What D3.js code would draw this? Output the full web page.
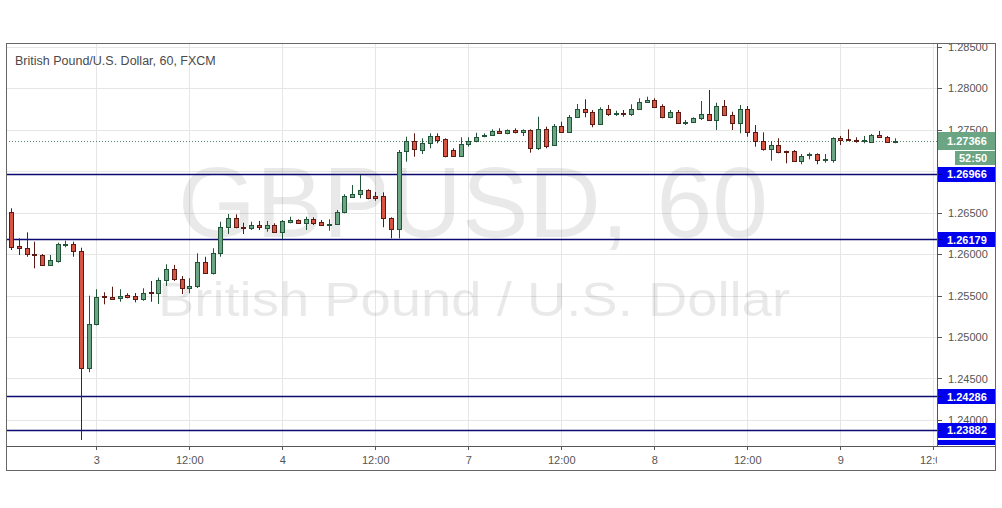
<!DOCTYPE html>
<html><head><meta charset="utf-8">
<script src="https://cdn.jsdelivr.net/npm/d3@7"></script>
<style>html,body{margin:0;padding:0;background:#fff;} svg{display:block;font-family:"Liberation Sans",Arial,sans-serif;}</style>
</head><body><svg id="c" width="1002" height="508"></svg>
<script>
// ---------- DATA ----------
const title = "British Pound/U.S. Dollar, 60, FXCM";
const watermarkMain = "GBPUSD, 60";
const watermarkSub = "British Pound / U.S. Dollar";
const openP = [1.26510,1.26096,1.26069,1.26000,1.25988,1.25864,1.25919,1.26112,1.26117,1.26040,
1.24623,1.25153,1.25490,1.25478,1.25466,1.25502,1.25490,1.25462,1.25539,1.25527,
1.25687,1.25816,1.25695,1.25587,1.25615,1.25907,1.25775,1.26008,1.26322,1.26430,
1.26325,1.26317,1.26346,1.26317,1.26349,1.26269,1.26389,1.26410,1.26377,1.26422,
1.26389,1.26349,1.26358,1.26502,1.26690,1.26719,1.26771,1.26699,1.26699,1.26430,
1.26298,1.27241,1.27365,1.27253,1.27334,1.27422,1.27382,1.27253,1.27181,1.27322,
1.27361,1.27422,1.27434,1.27486,1.27454,1.27494,1.27466,1.27494,1.27274,1.27502,
1.27310,1.27542,1.27474,1.27654,1.27743,1.27714,1.27563,1.27743,1.27687,1.27699,
1.27687,1.27743,1.27835,1.27855,1.27783,1.27647,1.27707,1.27575,1.27587,1.27635,
1.27687,1.27614,1.27783,1.27675,1.27575,1.27743,1.27474,1.27361,1.27261,1.27313,
1.27241,1.27241,1.27121,1.27193,1.27201,1.27133,1.27133,1.27394,1.27382,1.27374,
1.27361,1.27353,1.27434,1.27413,1.27349];
const highP = [1.26551,1.26189,1.26261,1.26148,1.26000,1.25988,1.26136,1.26160,1.26148,1.26076,
1.25498,1.25575,1.25539,1.25606,1.25575,1.25527,1.25530,1.25587,1.25675,1.25715,
1.25876,1.25868,1.25735,1.25707,1.26008,1.25967,1.26069,1.26389,1.26482,1.26478,
1.26377,1.26389,1.26398,1.26398,1.26370,1.26410,1.26449,1.26418,1.26449,1.26442,
1.26410,1.26418,1.26530,1.26719,1.26831,1.26952,1.26780,1.26747,1.26743,1.26442,
1.27253,1.27413,1.27454,1.27394,1.27454,1.27454,1.27394,1.27274,1.27406,1.27406,
1.27461,1.27454,1.27502,1.27514,1.27502,1.27514,1.27502,1.27502,1.27654,1.27534,
1.27566,1.27594,1.27675,1.27807,1.27864,1.27735,1.27767,1.27795,1.27727,1.27735,
1.27804,1.27876,1.27895,1.27876,1.27804,1.27735,1.27735,1.27614,1.27647,1.27843,
1.27976,1.27823,1.27855,1.27714,1.27795,1.27783,1.27554,1.27466,1.27361,1.27394,
1.27245,1.27253,1.27205,1.27221,1.27213,1.27205,1.27406,1.27422,1.27502,1.27406,
1.27422,1.27446,1.27482,1.27422,1.27394];
const lowP = [1.26048,1.25988,1.25967,1.25828,1.25855,1.25859,1.25895,1.26081,1.25967,1.23759,
1.24575,1.25140,1.25394,1.25446,1.25425,1.25466,1.25418,1.25437,1.25425,1.25398,
1.25615,1.25675,1.25518,1.25527,1.25590,1.25759,1.25753,1.25967,1.26241,1.26310,
1.26241,1.26289,1.26289,1.26269,1.26257,1.26181,1.26370,1.26370,1.26289,1.26349,
1.26337,1.26281,1.26349,1.26490,1.26683,1.26671,1.26659,1.26642,1.26322,1.26189,
1.26189,1.27112,1.27172,1.27205,1.27274,1.27334,1.27165,1.27172,1.27170,1.27293,
1.27346,1.27406,1.27426,1.27446,1.27442,1.27454,1.27422,1.27221,1.27253,1.27274,
1.27301,1.27461,1.27466,1.27647,1.27647,1.27527,1.27554,1.27663,1.27663,1.27654,
1.27663,1.27735,1.27828,1.27767,1.27635,1.27635,1.27570,1.27554,1.27582,1.27614,
1.27606,1.27494,1.27663,1.27494,1.27454,1.27413,1.27293,1.27245,1.27124,1.27213,
1.27093,1.27112,1.27081,1.27141,1.27081,1.27100,1.27100,1.27313,1.27361,1.27341,
1.27334,1.27346,1.27406,1.27341,1.27334];
const closeP = [1.26088,1.26069,1.25996,1.25988,1.25864,1.25924,1.26117,1.26118,1.26040,1.24623,
1.25153,1.25486,1.25478,1.25458,1.25498,1.25486,1.25462,1.25534,1.25527,1.25687,
1.25816,1.25695,1.25587,1.25615,1.25900,1.25775,1.26008,1.26322,1.26430,1.26322,
1.26317,1.26346,1.26322,1.26346,1.26269,1.26398,1.26410,1.26377,1.26422,1.26377,
1.26349,1.26361,1.26510,1.26699,1.26723,1.26771,1.26671,1.26671,1.26430,1.26298,
1.27233,1.27365,1.27261,1.27334,1.27422,1.27374,1.27181,1.27181,1.27325,1.27365,
1.27413,1.27434,1.27486,1.27461,1.27494,1.27466,1.27494,1.27274,1.27502,1.27301,
1.27542,1.27474,1.27654,1.27743,1.27714,1.27563,1.27743,1.27683,1.27699,1.27693,
1.27747,1.27835,1.27855,1.27775,1.27647,1.27707,1.27575,1.27594,1.27635,1.27687,
1.27614,1.27783,1.27675,1.27575,1.27743,1.27474,1.27361,1.27261,1.27313,1.27225,
1.27229,1.27121,1.27184,1.27205,1.27133,1.27145,1.27394,1.27374,1.27370,1.27361,
1.27374,1.27434,1.27413,1.27346,1.27366];
const xTickIndex = [11,23,35,47,59,71,83,95,107,119];
const xTickLabels = ["3","12:00","4","12:00","7","12:00","8","12:00","9","12:00"];
const yTickValues = [1.240,1.245,1.250,1.255,1.260,1.265,1.270,1.275,1.280,1.285];
const levelValues = [1.26966,1.26179,1.24286,1.23882];
const lastPrice = 1.27366;
const countdown = "52:50";

// ---------- LAYOUT ----------
const L = 6, T = 43, R = 937, B = 446, OR = 996, OB = 471;
const svg = d3.select("#c");
const x = d3.scaleLinear().domain([0, 119]).range([11, 933.25]);
const y = d3.scaleLinear().domain([1.24, 1.28]).range([420, 88]);
const UP = "#6ba583", UPB = "#225437", DN = "#d75442", DNB = "#5b1a13";
const BLUE = "#0000ee", NAVY = "#0b0b72";
const px = v => Math.round(v) + 0.5;

const defs = svg.append("defs");
defs.append("clipPath").attr("id","plot").append("rect").attr("x",L).attr("y",T).attr("width",R-L).attr("height",B-T);
defs.append("clipPath").attr("id","yax").append("rect").attr("x",R).attr("y",T).attr("width",OR-R).attr("height",B-T);
defs.append("clipPath").attr("id","xax").append("rect").attr("x",L).attr("y",B).attr("width",R-L).attr("height",OB-B);

const plot = svg.append("g").attr("clip-path","url(#plot)");

// grid
plot.append("g").selectAll("line").data(yTickValues).join("line")
  .attr("x1",L).attr("x2",R).attr("y1",d=>px(y(d))).attr("y2",d=>px(y(d)))
  .attr("stroke","#e6e6e6").attr("stroke-width",1);
plot.append("g").selectAll("line").data(xTickIndex).join("line")
  .attr("y1",T).attr("y2",B).attr("x1",d=>px(x(d))).attr("x2",d=>px(x(d)))
  .attr("stroke","#e6e6e6").attr("stroke-width",1);

// watermark
plot.append("text").text(watermarkMain).attr("x",473).attr("y",237)
  .attr("text-anchor","middle").attr("font-size",100).attr("fill","#000").attr("fill-opacity",0.085)
  .attr("textLength",590).attr("lengthAdjust","spacingAndGlyphs");
plot.append("text").text(watermarkSub).attr("x",474).attr("y",316)
  .attr("text-anchor","middle").attr("font-size",49).attr("fill","#000").attr("fill-opacity",0.085)
  .attr("textLength",632).attr("lengthAdjust","spacingAndGlyphs");

// level lines
plot.append("g").selectAll("line").data(levelValues).join("line")
  .attr("x1",L).attr("x2",R).attr("y1",d=>px(y(d))).attr("y2",d=>px(y(d)))
  .attr("stroke",NAVY).attr("stroke-width",1.3);

// last price dotted line
plot.append("line").attr("x1",L).attr("x2",R).attr("y1",px(y(lastPrice))).attr("y2",px(y(lastPrice)))
  .attr("stroke","#5a8a6e").attr("stroke-width",1).attr("stroke-dasharray","1,2");

// candles
const idx = d3.range(openP.length);
const cg = plot.append("g");
const candle = cg.selectAll("g").data(idx).join("g");
candle.append("line")
  .attr("x1",i=>px(x(i))).attr("x2",i=>px(x(i)))
  .attr("y1",i=>y(highP[i])).attr("y2",i=>y(lowP[i]))
  .attr("stroke",i=>closeP[i]>=openP[i]?UPB:DNB).attr("stroke-width",1);
candle.append("rect")
  .attr("x",i=>Math.round(x(i))-1.5).attr("width",4)
  .attr("y",i=>Math.round(y(Math.max(openP[i],closeP[i])))+0.5)
  .attr("height",i=>Math.max(1,Math.round(y(Math.min(openP[i],closeP[i])))-Math.round(y(Math.max(openP[i],closeP[i])))))
  .attr("fill",i=>closeP[i]>=openP[i]?UP:DN)
  .attr("stroke",i=>closeP[i]>=openP[i]?UPB:DNB).attr("stroke-width",1);

// title
svg.append("text").text(title).attr("x",15).attr("y",65).attr("font-size",12.5).attr("fill","#4a4a4a");

// right axis
const yax = svg.append("g").attr("clip-path","url(#yax)");
// tick labels fully hidden behind a price label are not drawn
const covered = v => levelValues.concat([lastPrice]).some(l => Math.abs(y(l) - y(v)) < 7);
yax.selectAll("line.t").data(yTickValues).join("line").attr("class","t")
  .attr("x1",R).attr("x2",R+5).attr("y1",d=>px(y(d))).attr("y2",d=>px(y(d)))
  .attr("stroke","#555");
yax.selectAll("text.t").data(yTickValues.filter(v => !covered(v))).join("text").attr("class","t")
  .text(d=>d3.format(".5f")(d)).attr("x",948).attr("y",d=>y(d)+4)
  .attr("font-size",11).attr("fill","#555");
// level labels
const lv = yax.selectAll("g.lv").data(levelValues).join("g").attr("class","lv");
lv.append("rect").attr("x",R+1).attr("y",d=>Math.round(y(d))-7).attr("width",OR-R-1).attr("height",15).attr("fill",BLUE);
lv.append("line").attr("x1",R).attr("x2",R+5).attr("y1",d=>px(y(d))).attr("y2",d=>px(y(d))).attr("stroke",NAVY);
lv.append("text").text(d=>d3.format(".5f")(d)).attr("x",947).attr("y",d=>y(d)+4.5)
  .attr("font-size",11).attr("font-weight","bold").attr("fill","#fff");
// extra blue bar at bottom (clipped label)
yax.append("rect").attr("x",R+1).attr("y",B-6).attr("width",OR-R-1).attr("height",5).attr("fill",BLUE);
// last price label
yax.append("rect").attr("x",R+1).attr("y",Math.round(y(lastPrice))-9).attr("width",OR-R-1).attr("height",18).attr("fill",UP);
yax.append("text").text(d3.format(".5f")(lastPrice)).attr("x",947).attr("y",y(lastPrice)+4.5)
  .attr("font-size",11).attr("font-weight","bold").attr("fill","#fff");
yax.append("rect").attr("x",955).attr("y",Math.round(y(lastPrice))+10).attr("width",OR-955).attr("height",14).attr("fill",UP);
yax.append("text").text(countdown).attr("x",959).attr("y",Math.round(y(lastPrice))+21)
  .attr("font-size",11).attr("font-weight","bold").attr("fill","#fff");

// bottom axis
const xax = svg.append("g").attr("clip-path","url(#xax)");
xax.selectAll("line").data(xTickIndex).join("line")
  .attr("x1",d=>px(x(d))).attr("x2",d=>px(x(d))).attr("y1",B).attr("y2",B+4).attr("stroke","#555");
xax.selectAll("text").data(xTickIndex).join("text").text((d,i)=>xTickLabels[i])
  .attr("x",d=>x(d)+0.5).attr("y",B+18).attr("text-anchor","middle").attr("font-size",11).attr("fill","#555");

// frame
svg.append("line").attr("x1",px(R)).attr("x2",px(R)).attr("y1",T).attr("y2",B).attr("stroke","#555");
svg.append("line").attr("x1",L).attr("x2",OR).attr("y1",B+0.5).attr("y2",B+0.5).attr("stroke","#555");
svg.append("rect").attr("x",L+0.5).attr("y",T+0.5).attr("width",OR-L-1).attr("height",OB-T-1)
  .attr("fill","none").attr("stroke","#666");
</script></body></html>
